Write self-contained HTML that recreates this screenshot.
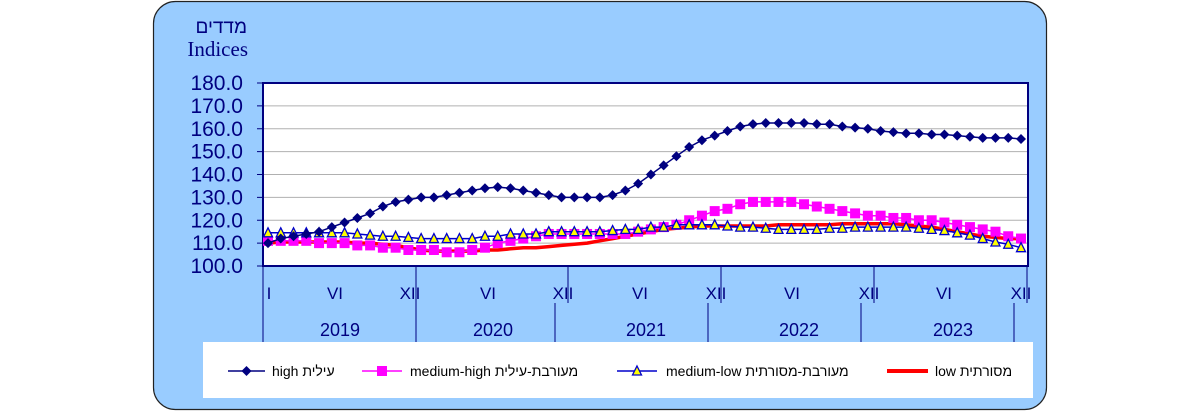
<!DOCTYPE html>
<html><head><meta charset="utf-8"><style>
html,body{margin:0;padding:0;background:#fff;width:1200px;height:411px;overflow:hidden}
svg text{font-family:"Liberation Sans","Noto Sans CJK SC",sans-serif}
</style></head><body>
<svg id="s" width="1200" height="411" xmlns="http://www.w3.org/2000/svg">
<rect x="153.5" y="1.5" width="893" height="408" rx="22" fill="#99ccff" stroke="#222" stroke-width="1.2"/>
<text x="247" y="33" font-size="19" fill="#000080" text-anchor="end">מדדים</text>
<text x="248" y="56" font-size="21" fill="#000080" text-anchor="end" style="font-family:'Liberation Serif',serif">Indices</text>
<rect x="263" y="83" width="765" height="183" fill="#fff" stroke="#000080" stroke-width="2"/>
<g id="grid"></g>
<g id="series"></g>
<rect x="203" y="342" width="830" height="56" fill="#fff"/>
<g font-size="14" fill="#000">
<line x1="228" y1="371" x2="265" y2="371" stroke="#000080" stroke-width="1.5"/>
<path d="M246.5 366 L251.5 371 L246.5 376 L241.5 371Z" fill="#000080"/>
<text x="272" y="376" direction="ltr">high עילית</text>
<line x1="362" y1="371" x2="402" y2="371" stroke="#ff00ff" stroke-width="1.5"/>
<rect x="377" y="366" width="10" height="10" fill="#ff00ff"/>
<text x="410" y="376" direction="ltr">medium-high מעורבת-עילית</text>
<line x1="617" y1="371" x2="657" y2="371" stroke="#0000cc" stroke-width="1.5"/>
<path d="M637 366 L641.5 375 L632.5 375Z" fill="#ffff00" stroke="#0000cc" stroke-width="1.3"/>
<text x="666" y="376" direction="ltr">medium-low מעורבת-מסורתית</text>
<line x1="887" y1="371" x2="928" y2="371" stroke="#ff0000" stroke-width="4"/>
<text x="935" y="376" direction="ltr">low מסורתית</text>
</g>
</svg>
<script>
var NS="http://www.w3.org/2000/svg",s=document.getElementById('s'),g=document.getElementById('grid'),se=document.getElementById('series');
function el(t,a,p){var e=document.createElementNS(NS,t);for(var k in a)e.setAttribute(k,a[k]);(p||s).appendChild(e);return e;}
function Y(v){return 266-(v-100)*183/80;}
for(var v=100;v<=180;v+=10){var y=Y(v);if(v>100&&v<180)el('line',{x1:264,x2:1027,y1:y,y2:y,stroke:'#b0b0b0','stroke-width':1},g);
el('line',{x1:257,x2:263,y1:y,y2:y,stroke:'#000080'},g);
var t=el('text',{x:243,y:y+7,'font-size':21,fill:'#000080','text-anchor':'end'},g);t.textContent=v.toFixed(1);}
[416,568,721,874,1027].forEach(function(x){el('line',{x1:x,x2:x,y1:266,y2:303,stroke:'#000080'},g);});
[263,416,555,708,861,1014].forEach(function(x){el('line',{x1:x,x2:x,y1:x==263||x==416?266:303,y2:342,stroke:'#000080'},g);});
var lbl=[["I",269],["VI",335],["XII",410],["VI",488],["XII",563],["VI",640],["XII",716],["VI",792],["XII",869],["VI",944],["XII",1021]];
lbl.forEach(function(l){var t=el('text',{x:l[1],y:299,'font-size':17,fill:'#000080','text-anchor':'middle'},g);t.textContent=l[0];});
[["2019",340],["2020",493],["2021",646],["2022",799],["2023",953]].forEach(function(l){var t=el('text',{x:l[1],y:336,'font-size':18,fill:'#000080','text-anchor':'middle'},g);t.textContent=l[0];});
var high=[110,112,113,114,115,117,119,121,123,126,128,129,130,130,131,132,133,134,134.5,134,133,132,131,130,130,130,130,131,133,136,140,144,148,152,155,157,159,161,162,162.5,162.5,162.5,162.5,162,162,161,160.5,160,159,158.5,158,158,157.5,157.5,157,156.5,156,156,156,155.5];
var mh=[111,111,111,111,110,110,110,109,109,108,108,107,107,107,106,106,107,108,110,111,112,113,114,114,114,114,114,114,114,115,116,117,118,120,122,124,125,127,128,128,128,128,127,126,125,124,123,122,122,121,121,120,120,119,118,117,116,115,113,112];
var ml=[114.5,114.5,114.5,114.5,114.5,114.5,114.5,114,113.5,113,113,112.5,112,112,112,112,112,113,113,114,114,114,115,115,115,115,115,115.5,116,116,117,117,118,118,118,118,117.5,117,117,116.5,116,116,116,116,116.5,116.5,117,117,117,117,117,116.5,116,115.5,114.5,113.5,112,110.5,109.5,108];
var lo=[110,110.5,110.5,110.5,110.5,110.5,110.5,110,110,109.5,109,108,107,106.5,106.5,106.5,106.5,107,107,107.5,108,108,108.5,109,109.5,110,111,112,113,114,115,116,116.5,117,117.5,117.5,117.5,117.5,117.5,117.5,118,118,118,118,118,118.5,118.5,118.5,118.5,118.5,118,117.5,117,116,115,114,113,112.5,112,112];
function X(i){return 268+i*(1021-268)/59;}
function line(d,c,w){var p=d.map(function(v,i){return X(i).toFixed(1)+','+Y(v).toFixed(1)}).join(' ');el('polyline',{points:p,fill:'none',stroke:c,'stroke-width':w,'stroke-linejoin':'round'},se);}
line(lo,'#ff0000',3.5);
line(mh,'#ff00ff',1.5);mh.forEach(function(v,i){el('rect',{x:X(i)-5,y:Y(v)-5,width:10,height:10,fill:'#ff00ff'},se);});
line(ml,'#0000cc',1.5);ml.forEach(function(v,i){var x=X(i),y=Y(v);el('path',{d:'M'+x+' '+(y-5)+' L'+(x+4.5)+' '+(y+4)+' L'+(x-4.5)+' '+(y+4)+'Z',fill:'#ffff00',stroke:'#0000cc','stroke-width':1.3},se);});
line(high,'#000080',1.5);high.forEach(function(v,i){var x=X(i),y=Y(v);el('path',{d:'M'+x+' '+(y-5)+' L'+(x+5)+' '+y+' L'+x+' '+(y+5)+' L'+(x-5)+' '+y+'Z',fill:'#000080'},se);});
</script>
</body></html>
